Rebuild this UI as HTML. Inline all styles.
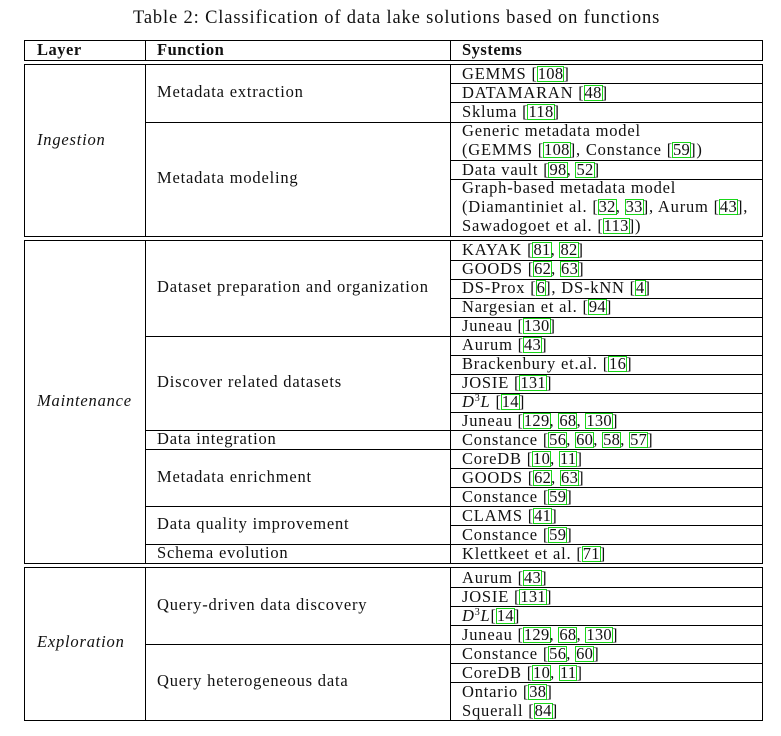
<!DOCTYPE html>
<html><head><meta charset="utf-8"><style>
body{margin:0;background:#fff;width:781px;height:736px;position:relative;overflow:hidden;font-family:"Liberation Serif",serif;color:#111}
.h{position:absolute;height:1px;background:#000}
.v{position:absolute;width:1px;background:#000}
.t{position:absolute;font-size:16.5px;line-height:19px;white-space:nowrap;letter-spacing:0.8px}
.c{display:inline-block;border:1px solid #19d619;line-height:14px;padding:0 0px;margin:0 -1px;letter-spacing:0.3px}
.b{font-weight:bold;letter-spacing:0.5px}
sup{font-size:10px;line-height:0;vertical-align:6px}
</style></head><body>
<div class="t" style="left:133px;top:7px;font-size:18.5px;line-height:22px;letter-spacing:0.85px">Table 2: Classification of data lake solutions based on functions</div>
<div class="h" style="left:24px;width:739px;top:40px"></div>
<div class="h" style="left:24px;width:739px;top:60px"></div>
<div class="h" style="left:24px;width:739px;top:64px"></div>
<div class="h" style="left:24px;width:739px;top:236px"></div>
<div class="h" style="left:24px;width:739px;top:240px"></div>
<div class="h" style="left:24px;width:739px;top:563px"></div>
<div class="h" style="left:24px;width:739px;top:567px"></div>
<div class="h" style="left:24px;width:739px;top:720px"></div>
<div class="h" style="left:145px;width:618px;top:122px"></div>
<div class="h" style="left:145px;width:618px;top:336px"></div>
<div class="h" style="left:145px;width:618px;top:430px"></div>
<div class="h" style="left:145px;width:618px;top:449px"></div>
<div class="h" style="left:145px;width:618px;top:506px"></div>
<div class="h" style="left:145px;width:618px;top:544px"></div>
<div class="h" style="left:145px;width:618px;top:644px"></div>
<div class="h" style="left:450px;width:313px;top:83px"></div>
<div class="h" style="left:450px;width:313px;top:102px"></div>
<div class="h" style="left:450px;width:313px;top:160px"></div>
<div class="h" style="left:450px;width:313px;top:179px"></div>
<div class="h" style="left:450px;width:313px;top:260px"></div>
<div class="h" style="left:450px;width:313px;top:279px"></div>
<div class="h" style="left:450px;width:313px;top:298px"></div>
<div class="h" style="left:450px;width:313px;top:317px"></div>
<div class="h" style="left:450px;width:313px;top:355px"></div>
<div class="h" style="left:450px;width:313px;top:374px"></div>
<div class="h" style="left:450px;width:313px;top:393px"></div>
<div class="h" style="left:450px;width:313px;top:412px"></div>
<div class="h" style="left:450px;width:313px;top:468px"></div>
<div class="h" style="left:450px;width:313px;top:487px"></div>
<div class="h" style="left:450px;width:313px;top:525px"></div>
<div class="h" style="left:450px;width:313px;top:587px"></div>
<div class="h" style="left:450px;width:313px;top:606px"></div>
<div class="h" style="left:450px;width:313px;top:625px"></div>
<div class="h" style="left:450px;width:313px;top:663px"></div>
<div class="h" style="left:450px;width:313px;top:682px"></div>
<div class="v" style="left:24px;top:40px;height:20px"></div><div class="v" style="left:145px;top:40px;height:20px"></div><div class="v" style="left:450px;top:40px;height:20px"></div><div class="v" style="left:762px;top:40px;height:20px"></div>
<div class="v" style="left:24px;top:64px;height:172px"></div><div class="v" style="left:145px;top:64px;height:172px"></div><div class="v" style="left:450px;top:64px;height:172px"></div><div class="v" style="left:762px;top:64px;height:172px"></div>
<div class="v" style="left:24px;top:240px;height:323px"></div><div class="v" style="left:145px;top:240px;height:323px"></div><div class="v" style="left:450px;top:240px;height:323px"></div><div class="v" style="left:762px;top:240px;height:323px"></div>
<div class="v" style="left:24px;top:567px;height:153px"></div><div class="v" style="left:145px;top:567px;height:153px"></div><div class="v" style="left:450px;top:567px;height:153px"></div><div class="v" style="left:762px;top:567px;height:153px"></div>
<div class="t b" style="left:37px;top:40px">Layer</div>
<div class="t b" style="left:157px;top:40px">Function</div>
<div class="t b" style="left:462px;top:40px">Systems</div>
<div class="t" style="left:37px;top:130px;font-style:italic">Ingestion</div>
<div class="t" style="left:37px;top:391px;font-style:italic">Maintenance</div>
<div class="t" style="left:37px;top:632px;font-style:italic">Exploration</div>
<div class="t" style="left:157px;top:82px">Metadata extraction</div>
<div class="t" style="left:157px;top:168px">Metadata modeling</div>
<div class="t" style="left:157px;top:277px">Dataset preparation and organization</div>
<div class="t" style="left:157px;top:372px">Discover related datasets</div>
<div class="t" style="left:157px;top:429px">Data integration</div>
<div class="t" style="left:157px;top:467px">Metadata enrichment</div>
<div class="t" style="left:157px;top:514px">Data quality improvement</div>
<div class="t" style="left:157px;top:543px">Schema evolution</div>
<div class="t" style="left:157px;top:595px">Query-driven data discovery</div>
<div class="t" style="left:157px;top:671px">Query heterogeneous data</div>
<div class="t" style="left:462px;top:64px">GEMMS [<span class="c">108</span>]</div>
<div class="t" style="left:462px;top:83px">DATAMARAN [<span class="c">48</span>]</div>
<div class="t" style="left:462px;top:102px">Skluma [<span class="c">118</span>]</div>
<div class="t" style="left:462px;top:121px">Generic metadata model<br>(GEMMS [<span class="c">108</span>], Constance [<span class="c">59</span>])</div>
<div class="t" style="left:462px;top:160px">Data vault [<span class="c">98</span>, <span class="c">52</span>]</div>
<div class="t" style="left:462px;top:178px">Graph-based metadata model<br>(Diamantiniet al. [<span class="c">32</span>, <span class="c">33</span>], Aurum [<span class="c">43</span>],<br>Sawadogoet et al. [<span class="c">113</span>])</div>
<div class="t" style="left:462px;top:240px">KAYAK [<span class="c">81</span>, <span class="c">82</span>]</div>
<div class="t" style="left:462px;top:259px">GOODS [<span class="c">62</span>, <span class="c">63</span>]</div>
<div class="t" style="left:462px;top:278px">DS-Prox [<span class="c">6</span>], DS-kNN [<span class="c">4</span>]</div>
<div class="t" style="left:462px;top:297px">Nargesian et al. [<span class="c">94</span>]</div>
<div class="t" style="left:462px;top:316px">Juneau [<span class="c">130</span>]</div>
<div class="t" style="left:462px;top:335px">Aurum [<span class="c">43</span>]</div>
<div class="t" style="left:462px;top:354px">Brackenbury et.al. [<span class="c">16</span>]</div>
<div class="t" style="left:462px;top:373px">JOSIE [<span class="c">131</span>]</div>
<div class="t" style="left:462px;top:392px"><i>D</i><sup>3</sup><i>L</i> [<span class="c">14</span>]</div>
<div class="t" style="left:462px;top:411px">Juneau [<span class="c">129</span>, <span class="c">68</span>, <span class="c">130</span>]</div>
<div class="t" style="left:462px;top:430px">Constance [<span class="c">56</span>, <span class="c">60</span>, <span class="c">58</span>, <span class="c">57</span>]</div>
<div class="t" style="left:462px;top:449px">CoreDB [<span class="c">10</span>, <span class="c">11</span>]</div>
<div class="t" style="left:462px;top:468px">GOODS [<span class="c">62</span>, <span class="c">63</span>]</div>
<div class="t" style="left:462px;top:487px">Constance [<span class="c">59</span>]</div>
<div class="t" style="left:462px;top:506px">CLAMS [<span class="c">41</span>]</div>
<div class="t" style="left:462px;top:525px">Constance [<span class="c">59</span>]</div>
<div class="t" style="left:462px;top:544px">Klettkeet et al. [<span class="c">71</span>]</div>
<div class="t" style="left:462px;top:568px">Aurum [<span class="c">43</span>]</div>
<div class="t" style="left:462px;top:587px">JOSIE [<span class="c">131</span>]</div>
<div class="t" style="left:462px;top:606px"><i>D</i><sup>3</sup><i>L</i>[<span class="c">14</span>]</div>
<div class="t" style="left:462px;top:625px">Juneau [<span class="c">129</span>, <span class="c">68</span>, <span class="c">130</span>]</div>
<div class="t" style="left:462px;top:644px">Constance [<span class="c">56</span>, <span class="c">60</span>]</div>
<div class="t" style="left:462px;top:663px">CoreDB [<span class="c">10</span>, <span class="c">11</span>]</div>
<div class="t" style="left:462px;top:682px">Ontario [<span class="c">38</span>]</div>
<div class="t" style="left:462px;top:701px">Squerall [<span class="c">84</span>]</div>
</body></html>
